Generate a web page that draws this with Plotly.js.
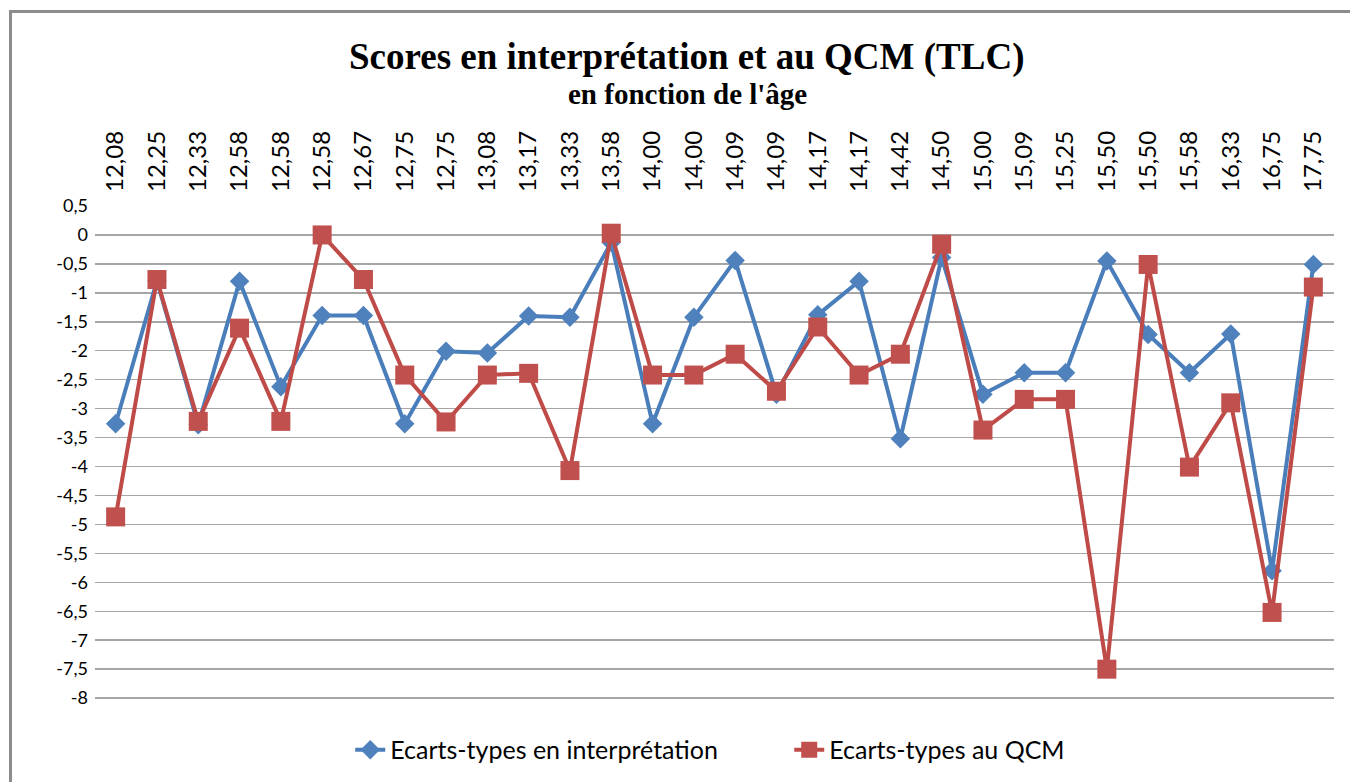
<!DOCTYPE html>
<html>
<head>
<meta charset="utf-8">
<script src="https://cdn.plot.ly/plotly-3.0.1.min.js"></script>
<style>
  html, body { margin: 0; padding: 0; background: #fff; overflow: hidden; }
  #chart { position: absolute; left: 0; top: 0; width: 1350px; height: 782px; }
  #frame { position: absolute; left: 9px; top: 10px; width: 1400px; height: 820px;
           border: 3px solid #8c8c8c; pointer-events: none; box-sizing: border-box; }
</style>
</head>
<body>
<div id="chart"></div>
<div id="frame"></div>
<script>
// ---- Data ----
const categories = ["12,08","12,25","12,33","12,58","12,58","12,58","12,67","12,75","12,75","13,08",
                    "13,17","13,33","13,58","14,00","14,00","14,09","14,09","14,17","14,17","14,42",
                    "14,50","15,00","15,09","15,25","15,50","15,50","15,58","16,33","16,75","17,75"];
const interpretation = [-3.26,-0.79,-3.28,-0.80,-2.62,-1.39,-1.39,-3.26,-2.01,-2.04,
                        -1.40,-1.42,-0.13,-3.26,-1.42,-0.44,-2.75,-1.38,-0.80,-3.52,
                        -0.39,-2.75,-2.38,-2.38,-0.45,-1.72,-2.38,-1.71,-5.80,-0.51];
const qcm = [-4.87,-0.77,-3.22,-1.61,-3.22,0.00,-0.77,-2.42,-3.23,-2.42,
             -2.39,-4.07,0.03,-2.42,-2.42,-2.06,-2.70,-1.59,-2.42,-2.06,
             -0.16,-3.37,-2.84,-2.84,-7.50,-0.51,-4.01,-2.90,-6.52,-0.90];
const yTickVals = [0.5,0,-0.5,-1,-1.5,-2,-2.5,-3,-3.5,-4,-4.5,-5,-5.5,-6,-6.5,-7,-7.5,-8];
const yTickLabels = ["0,5","0","-0,5","-1","-1,5","-2","-2,5","-3","-3,5","-4","-4,5","-5","-5,5","-6","-6,5","-7","-7,5","-8"];
const seriesNames = ["Ecarts-types en interprétation", "Ecarts-types au QCM"];
const titleText = "Scores en interprétation et au QCM (TLC)";
const subtitleText = "en fonction de l'âge";

const xIdx = categories.map((_, i) => i);

const traces = [
  {
    x: xIdx, y: interpretation, name: seriesNames[0], type: 'scatter', mode: 'lines+markers',
    line: { color: '#4a7ebb', width: 4 },
    marker: { symbol: 'diamond', size: 15, color: '#4f81bd', line: { width: 0 } }
  },
  {
    x: xIdx, y: qcm, name: seriesNames[1], type: 'scatter', mode: 'lines+markers',
    line: { color: '#be4b48', width: 4 },
    marker: { symbol: 'square', size: 19, color: '#c0504d', line: { width: 0 } }
  }
];

const layout = {
  width: 1350, height: 782,
  margin: { l: 95, r: 16, t: 206, b: 81 },
  paper_bgcolor: 'rgba(0,0,0,0)', plot_bgcolor: 'rgba(0,0,0,0)',
  font: { family: 'Lato, "Open Sans", sans-serif', size: 18, color: '#000' },
  showlegend: true,
  legend: {
    orientation: 'h', xref: 'paper', x: 0.206, xanchor: 'left',
    yref: 'container', y: 0.041, yanchor: 'middle',
    font: { family: 'Lato, sans-serif', size: 25, color: '#000' },
    traceorder: 'normal', entrywidth: 394, entrywidthmode: 'pixels'
  },
  xaxis: {
    side: 'top', type: 'linear', range: [-0.5, 29.5],
    tickvals: xIdx, ticktext: categories, tickangle: -90,
    showgrid: false, zeroline: false, showline: false, ticks: '',
    ticklabelstandoff: 13,
    tickfont: { size: 24, family: 'Lato, sans-serif', color: '#000' }
  },
  yaxis: {
    range: [-8.05, 0.5], tickvals: yTickVals, ticktext: yTickLabels,
    showgrid: true, gridcolor: '#a6a6a6', gridwidth: 1.5,
    zeroline: false, showline: false, ticks: '',
    ticklabelstandoff: 6,
    tickfont: { size: 18, family: 'Lato, sans-serif', color: '#000' }
  },
  annotations: [
    { text: '<b>' + titleText + '</b>', xref: 'paper', x: 0.478, xanchor: 'center',
      yref: 'paper', y: (701 - 57) / 495, yanchor: 'middle', showarrow: false,
      font: { family: '"Liberation Serif", "Times New Roman", serif', size: 37, color: '#000' } },
    { text: '<b>' + subtitleText + '</b>', xref: 'paper', x: 0.478, xanchor: 'center',
      yref: 'paper', y: (701 - 94) / 495, yanchor: 'middle', showarrow: false,
      font: { family: '"Liberation Serif", "Times New Roman", serif', size: 29, color: '#000' } }
  ]
};

Plotly.newPlot('chart', traces, layout, { displayModeBar: false, staticPlot: true });
</script>
</body>
</html>
